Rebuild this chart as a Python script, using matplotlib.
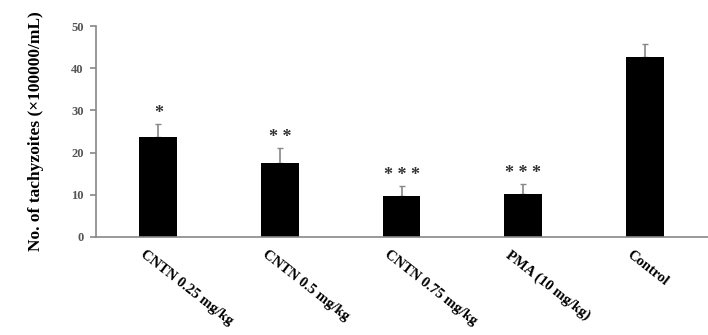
import matplotlib.pyplot as plt
import matplotlib.transforms as mtransforms

# data
groups = ['CNTN 0.25 mg/kg', 'CNTN 0.5 mg/kg', 'CNTN 0.75 mg/kg', 'PMA (10 mg/kg)', 'Control']
means = [23.7, 17.5, 9.7, 10.2, 42.7]
errs = [3.1, 3.6, 2.4, 2.4, 3.0]
stars = ['*', '**', '***', '***', '']

plt.rcParams['font.family'] = 'Liberation Serif'
plt.rcParams['font.weight'] = 'bold'

fig = plt.figure(figsize=(7.08, 3.35), dpi=100)
ax = fig.add_axes([0.136, 0.293, 0.864, 0.629])

x = range(len(groups))
ax.bar(x, means, width=0.31, color='black', zorder=2)
ax.errorbar(x, means, yerr=[[0] * len(errs), errs], fmt='none', ecolor='#888888',
            elinewidth=1.2, capsize=2.5, capthick=1, zorder=1)

#significance stars above the error bars
for i, (m, e, s) in enumerate(zip(means, errs, stars)):
    if s:
        ax.text(i, m + e + 0.4, ' '.join(s), ha='center', va='bottom', fontsize=13,
                fontweight='bold', color='#333333')

ax.set_xlim(-0.51, 4.52)
ax.set_ylim(0, 50)
ax.set_yticks([0, 10, 20, 30, 40, 50])
ax.tick_params(axis='y', labelsize=9, labelcolor='#555555', color='#888888', length=4, width=1.2,
               direction='out', pad=5)
ax.tick_params(axis='x', length=0, pad=8)
ax.set_xticks(list(x))
ax.set_xticklabels(groups, rotation=-38, ha='left', rotation_mode='anchor', fontsize=10.5,
                   fontweight='bold')
#shift labels a bit to the left like the original
shift = mtransforms.ScaledTranslation(-0.12, 0, fig.dpi_scale_trans)
for lbl in ax.get_xticklabels():
    lbl.set_transform(lbl.get_transform() + shift)
ax.set_ylabel('No. of tachyzoites (×100000/mL)', fontsize=12.5, fontweight='bold', labelpad=20)

for side in ['top', 'right']:
    ax.spines[side].set_visible(False)
for side in ['left', 'bottom']:
    ax.spines[side].set_color('#888888')
    ax.spines[side].set_linewidth(1.2)

plt.savefig('out.png', dpi=100)
